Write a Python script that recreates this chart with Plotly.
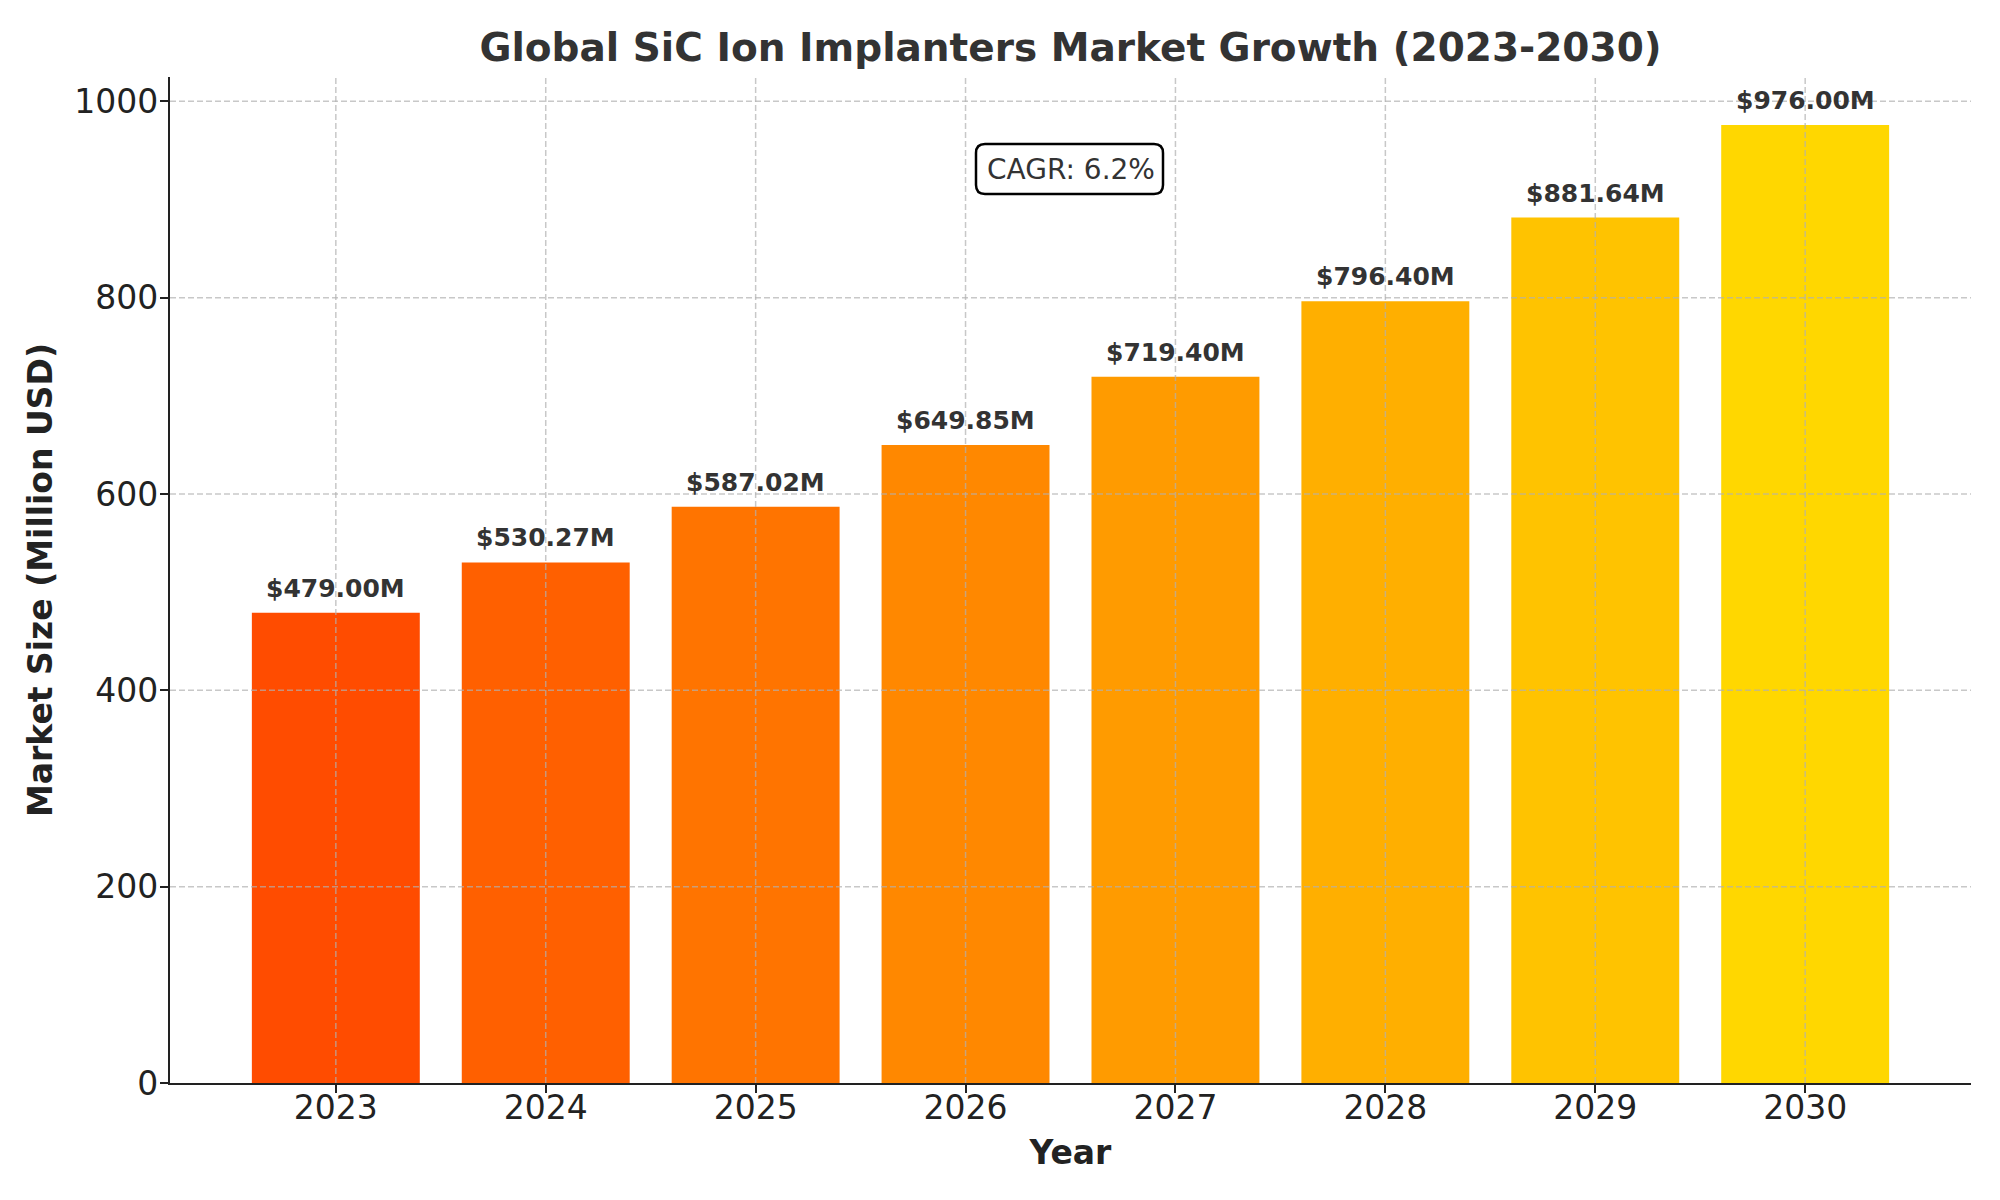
import plotly.graph_objects as go

years = ["2023", "2024", "2025", "2026", "2027", "2028", "2029", "2030"]
market_size = [479.00, 530.27, 587.02, 649.85, 719.40, 796.40, 881.64, 976.00]
bar_colors = ["#FF4C00", "#FF6000", "#FF7400", "#FF8800", "#FF9B00", "#FFAF00", "#FFC300", "#FFD700"]
y_ticks = [0, 200, 400, 600, 800, 1000]
cagr_text = "CAGR: 6.2%"
title_text = "Global SiC Ion Implanters Market Growth (2023-2030)"

FONT = "DejaVu Sans"

fig = go.Figure()
fig.add_trace(go.Bar(
    x=years, y=market_size,
    marker=dict(color=bar_colors, line=dict(width=0)),
    width=0.8,
    hoverinfo="skip",
))

# value labels (category axes take the category index for annotations/shapes)
for i, v in enumerate(market_size):
    fig.add_annotation(
        x=i, y=v, text=f"<b>${v:.2f}M</b>", showarrow=False,
        yanchor="bottom", yshift=8,
        font=dict(family=FONT, size=25, color="#333333"),
    )

grid_style = dict(color="rgba(176,176,176,0.7)", width=1.5, dash="6px,3px")
# vertical grid lines (above bars, like the reference)
for i, _ in enumerate(years):
    fig.add_shape(type="line", xref="x", yref="y domain", x0=i, x1=i, y0=0, y1=1,
                  line=grid_style, layer="above")
for t in y_ticks[1:]:
    fig.add_shape(type="line", xref="x domain", yref="y", x0=0, x1=1, y0=t, y1=t,
                  line=grid_style, layer="above")

# CAGR rounded box
bx0, bx1 = (976 - 170) / 1801, (1163 - 170) / 1801
by1, by0 = (1083 - 144) / 1006, (1083 - 194) / 1006
rx, ry = 9 / 1801, 9 / 1006
path = (f"M {bx0+rx},{by0} L {bx1-rx},{by0} Q {bx1},{by0} {bx1},{by0+ry} "
        f"L {bx1},{by1-ry} Q {bx1},{by1} {bx1-rx},{by1} L {bx0+rx},{by1} "
        f"Q {bx0},{by1} {bx0},{by1-ry} L {bx0},{by0+ry} Q {bx0},{by0} {bx0+rx},{by0} Z")
fig.add_shape(type="path", xref="paper", yref="paper", path=path,
              fillcolor="white", line=dict(color="black", width=2.5), layer="above")
fig.add_annotation(
    xref="paper", yref="paper", x=0.5, y=(by0 + by1) / 2, text=cagr_text,
    showarrow=False, xanchor="center", yanchor="middle",
    font=dict(family=FONT, size=28, color="#333333"),
)

fig.update_layout(
    width=2000, height=1200,
    margin=dict(l=170, r=29, t=77, b=117),
    paper_bgcolor="white", plot_bgcolor="white",
    showlegend=False,
    bargap=0.2,
    title=dict(text=f"<b>{title_text}</b>", x=(170 + 1971) / 2 / 2000, xanchor="center",
               y=1 - 47 / 1200, yanchor="middle", yref="container",
               font=dict(family=FONT, size=39, color="#333333")),
    font=dict(family=FONT, color="#222222"),
)
fig.update_xaxes(
    type="category", range=[-0.79, 7.79],
    showgrid=False, showline=True, linecolor="#222222", linewidth=2.2,
    ticks="outside", ticklen=8, tickwidth=2, tickcolor="#222222",
    ticklabelstandoff=-14,
    tickfont=dict(family=FONT, size=33, color="#222222"),
    title=dict(text="<b>Year</b>", font=dict(family=FONT, size=33, color="#222222"), standoff=15),
    zeroline=False,
)
fig.update_yaxes(
    range=[0, 1024.8], tickvals=y_ticks, ticktext=[str(t) for t in y_ticks],
    showgrid=False, showline=True, linecolor="#222222", linewidth=2.2,
    ticks="outside", ticklen=8, tickwidth=2, tickcolor="#222222",
    ticklabelstandoff=-5,
    tickfont=dict(family=FONT, size=33, color="#222222"),
    title=dict(text="<b>Market Size (Million USD)</b>", font=dict(family=FONT, size=33, color="#222222"), standoff=12),
    zeroline=False,
)

fig.write_html("out.html")
